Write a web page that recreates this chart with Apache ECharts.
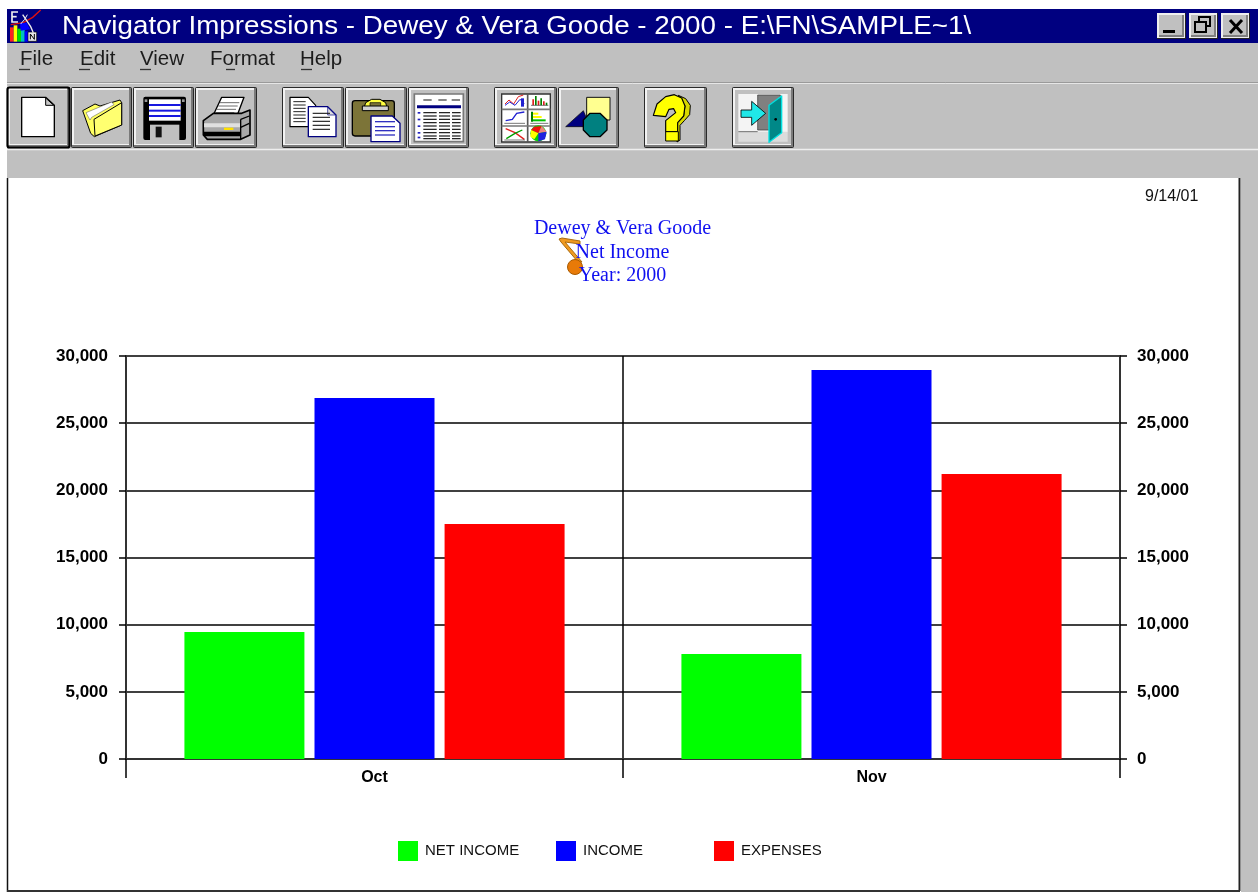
<!DOCTYPE html>
<html>
<head>
<meta charset="utf-8">
<style>html,body{margin:0;padding:0;background:#fff}#c{width:1258px;height:892px}</style>
<script src="https://cdn.jsdelivr.net/npm/echarts@6/dist/echarts.min.js"></script>
</head>
<body>
<div id="c"></div>
<script>
const categories = ['Oct', 'Nov'];
const netIncome = [9450, 7820];
const income = [26880, 28960];
const expenses = [17490, 21220];
const seriesNames = ['NET INCOME', 'INCOME', 'EXPENSES'];
const chartTitleLines = ['Dewey & Vera Goode', 'Net Income', 'Year: 2000'];
const windowTitle = 'Navigator Impressions - Dewey & Vera Goode - 2000 - E:\\FN\\SAMPLE~1\\';
const menuItems = ['File', 'Edit', 'View', 'Format', 'Help'];
const dateStamp = '9/14/01';

const GRAY = '#c0c0c0', NAVY = '#000080', DK = '#808080';
const R = (x, y, w, h, fill, stroke, lw, r) => ({type:'rect', shape:{x, y, width:w, height:h, r:r||0}, style:{fill:fill||'none', stroke:stroke||'none', lineWidth:lw||1}, silent:true});
const P = (pts, fill, stroke, lw) => ({type:'polygon', shape:{points:pts}, style:{fill:fill||'none', stroke:stroke||'none', lineWidth:lw||1, lineJoin:'round'}, silent:true});
const PL = (pts, stroke, lw) => ({type:'polyline', shape:{points:pts}, style:{fill:'none', stroke:stroke, lineWidth:lw||1}, silent:true});
const L = (x1, y1, x2, y2, stroke, lw) => ({type:'line', shape:{x1, y1, x2, y2}, style:{stroke:stroke, lineWidth:lw||1}, silent:true});
const C = (cx, cy, r, fill, stroke, lw) => ({type:'circle', shape:{cx, cy, r}, style:{fill:fill||'none', stroke:stroke||'none', lineWidth:lw||1}, silent:true});
const T = (x, y, text, fontSize, fill, scaleX) => ({type:'text', x, y, scaleX:scaleX||1, silent:true, style:{text, fontSize, fontFamily:'"Liberation Sans",Arial,sans-serif', fill, textAlign:'left', textVerticalAlign:'middle'}});
// children drawn in 3x crop coordinates
const G = (ox, oy, children, z) => ({type:'group', x:ox, y:oy, scaleX:1/3, scaleY:1/3, silent:true, children});

function button(x0, x1, selected) {
  const y0 = 87, y1 = 148, w = x1 - x0, h = y1 - y0;
  const a = [
    R(x0, y0, w, h, '#2a2a2a', null, 1, 2),
    R(x0 + 1, y0 + 1, w - 2, h - 2, '#7a7a7a'),
    R(x0 + 1, y0 + 1, w - 4, h - 4, '#f2f2f2'),
    R(x0 + 3, y0 + 3, w - 6, h - 7, GRAY)
  ];
  if (selected) a.push(R(x0 + .5, y0 + .5, w - 1, h - 1, 'none', '#000', 2.2, 2));
  return a;
}
function winButton(x0, x1) {
  const y0 = 13, y1 = 39, w = x1 - x0, h = y1 - y0;
  return [R(x0, y0, w, h, '#222'), R(x0, y0, w - 1, h - 1, '#eee'), R(x0 + 2, y0 + 2, w - 4, h - 4, DK), R(x0 + 2, y0 + 2, w - 6, h - 6, GRAY)];
}
const chrome = [];
const add = (...a) => a.forEach(e => chrome.push(e));

// panels
add(R(7, 9, 1251, 34, NAVY));
add(R(7, 43, 1251, 135, GRAY));
add(L(7, 82.5, 1258, 82.5, '#9a9a9a', 1), L(7, 83.5, 1258, 83.5, '#e6e6e6', 1));
add(L(7, 149.5, 1258, 149.5, '#eeeeee', 1.5));
add(R(1241, 178, 17, 714, GRAY));
add(L(7.5, 178, 7.5, 892, '#111', 1.5), L(1239.5, 178, 1239.5, 891, '#222', 2), L(7, 891, 1240, 891, '#333', 2));

// title bar
add(T(62, 27, windowTitle, 25, '#fff', 1.11));
// app icon
add(G(0, 0, [
  R(30, 82, 11, 43, '#ff2020'), R(41, 76, 11, 49, '#ffff00'), R(52, 86, 11, 39, '#00e000'), R(63, 90, 11, 35, '#00c0c0'), R(74, 94, 11, 31, '#0000ff'),
  R(84, 96, 26, 28, '#e8e8e8', '#000', 2),
  PL([[91,118],[91,102],[103,118],[103,102]], '#000', 3),
  PL([[54,36],[36,36],[36,66],[54,66]], '#eee', 5), L(36, 50, 50, 50, '#eee', 5),
  PL([[32,74],[70,68],[98,52],[122,30]], '#e01010', 4),
  P([[60,70],[80,68],[90,88],[62,92]], '#0000ff'),
  PL([[68,44],[92,80],[100,98]], '#eee', 4),
  PL([[82,44],[74,58],[62,72]], '#eee', 3)
]));
// window buttons
add(...winButton(1157, 1186), ...winButton(1189, 1218), ...winButton(1221, 1250));
add(R(1163, 30, 12, 3, '#000'));
add(R(1199, 17, 11, 9, 'none', '#000', 2), R(1195, 22, 11, 10, GRAY, '#000', 2));
add(L(1230, 20, 1242, 33, '#000', 3), L(1242, 20, 1230, 33, '#000', 3));

// menu
const menuX = [20, 80, 140, 210, 300];
const underline = [[19, 30], [79, 90], [140, 151], [226, 235], [301, 312]];
menuItems.forEach((m, i) => {
  add(T(menuX[i], 59, m, 20.5, '#1c1c1c'));
  add(L(underline[i][0], 69.5, underline[i][1], 69.5, '#333', 1.3));
});

// toolbar buttons
[[7,70,true],[71,132],[133,194],[195,257],[282,344],[345,407],[408,469],[494,557],[558,619],[644,707],[732,794]].forEach(b => add(...button(b[0], b[1], b[2])));

// icons of first toolbar block
const stripes = [];
[75, 92, 108].forEach(y => stripes.push(R(447, y - 3, 95, 6, '#1818e0')));
add(G(0, 80, [
  // new
  P([[65,52],[137,52],[163,76],[163,170],[65,170]], '#fff', '#000', 4),
  P([[137,54],[137,76],[161,76]], '#c8c8c8', '#000', 3),
  // folder
  P([[248,92],[285,72],[300,78],[360,60],[365,68],[365,135],[283,170],[272,160]], '#ffff60', '#000', 3),
  P([[258,98],[335,66],[342,74],[275,112],[270,120]], '#fff', '#555', 1.5),
  P([[282,118],[365,68],[365,135],[285,168]], '#ffff70', '#000', 3),
  // floppy
  R(430, 50, 128, 130, '#000', null, 1, 6),
  R(447, 58, 95, 64, '#fff'),
  ...stripes,
  R(434, 58, 8, 8, '#999'), R(546, 58, 8, 8, '#999'),
  R(450, 134, 88, 46, GRAY), R(467, 140, 18, 32, '#111'),
  // printer
  P([[640,105],[665,52],[732,52],[712,105]], '#fff', '#000', 4),
  L(660, 68, 718, 68, '#222', 2), L(655, 78, 713, 78, '#222', 2), L(650, 88, 708, 88, '#222', 2), L(646, 98, 703, 98, '#222', 2),
  P([[610,122],[640,100],[725,100],[750,90],[750,165],[722,178],[622,178],[610,165]], '#a8a8a8', '#000', 5),
  R(612, 130, 108, 12, '#e0e0e0'), R(612, 155, 108, 14, '#000'),
  R(672, 143, 28, 7, '#ffe000'),
  L(722, 118, 748, 108, '#000', 4), L(722, 142, 748, 130, '#000', 4), L(722, 118, 722, 178, '#000', 4)
]));

function docLines(x1, x2, ys, col, lw) { return ys.map(y => L(x1, y, x2, y, col, lw)); }
const tableRows = [];
[98,108,118,128,138,148,158,168,176].forEach((y, i) => {
  tableRows.push(L(445, y, 485, y, '#111', 3.5), L(492, y, 525, y, '#111', 3.5), L(531, y, 557, y, '#111', 3.5));
});
add(G(275, 80, [
  // copy
  P([[45,52],[100,52],[122,76],[122,140],[45,140]], '#fff', '#000', 3.5),
  ...docLines(55, 92, [65,75,85,95,105,115,125], '#222', 3),
  P([[100,80],[158,80],[183,105],[183,170],[100,170]], '#fff', NAVY, 4),
  P([[158,82],[158,105],[181,105]], '#ddd', NAVY, 2),
  ...docLines(113, 165, [100,112,124,136,148], '#222', 3.5),
  // paste
  R(232, 62, 126, 106, '#7c7438', '#000', 4, 8),
  P([[265,90],[272,68],[290,58],[315,58],[332,68],[338,90]], '#ffff40', '#000', 3),
  R(285, 68, 32, 12, '#7c7438', '#000', 2),
  R(262, 78, 78, 14, '#d0d0d0', '#000', 3),
  P([[288,108],[352,108],[375,130],[375,185],[288,185]], '#fff', NAVY, 4),
  ...docLines(300, 360, [125,140,152,165], '#3030c0', 4),
  // table
  R(418, 42, 147, 143, '#fff', '#777', 5),
  L(445, 60, 470, 60, '#333', 3.5), L(490, 60, 515, 60, '#333', 3.5), L(530, 60, 555, 60, '#333', 3.5),
  R(426, 76, 132, 9, NAVY),
  ...tableRows,
  ...[98,118,138,158,172].map(y => R(428, y - 2, 8, 5, '#2020c0')),
  // chart grid
  R(680, 42, 146, 144, '#fff', '#333', 4),
  L(758, 42, 758, 186, '#555', 5), L(680, 88, 826, 88, '#777', 5), L(680, 138, 826, 138, '#777', 5),
  PL([[690,72],[702,60],[716,72],[730,50],[745,45]], '#e02020', 3), PL([[690,76],[704,66],[720,76],[735,58],[748,70]], '#2020d0', 3),
  R(738, 55, 9, 25, '#2020d0'),
  ...[[772,58],[780,48],[788,62],[796,55],[804,64],[812,68]].map((b, i) => R(b[0], b[1], 5, 76 - b[1], i % 2 ? '#008000' : '#e02020')),
  L(768, 76, 820, 76, '#333', 2),
  PL([[692,122],[712,118],[725,100],[748,96]], '#2020d0', 4), L(688, 130, 750, 130, '#333', 2),
  R(768, 95, 6, 30, '#008000'), R(774, 98, 16, 6, '#ffff00'), R(774, 108, 26, 6, '#ffff00'), R(774, 118, 38, 6, '#00c000'),
  L(766, 130, 820, 130, '#333', 2),
  PL([[692,146],[720,158],[748,178]], '#e02020', 4), PL([[694,176],[720,160],[742,150]], '#00a000', 4), L(688, 180, 750, 180, '#333', 2),
  C(790, 160, 24, '#00d000'),
  P([[790,160],[768,150],[778,140],[800,138]], '#f01010'),
  P([[790,160],[800,138],[815,155]], '#f08080'),
  P([[790,160],[815,155],[810,178],[790,184]], '#2020e0'),
  P([[790,160],[768,150],[766,170],[778,178]], '#ffff00'),
  // shapes
  R(935, 52, 70, 68, '#ffff90', '#111', 3),
  P([[872,140],[925,92],[945,140]], NAVY, '#000', 2),
  P([[945,100],[975,100],[996,120],[996,150],[975,170],[945,170],[925,150],[925,120]], '#008080', '#000', 4)
]));
add(G(635, 80, [
  // help
  P([[130,46],[152,56],[166,76],[164,104],[148,122],[135,136],[135,180],[126,186],[126,128],[146,108],[150,78]], '#d8d800', '#000', 3),
  P([[55,106],[66,72],[92,50],[118,44],[140,54],[150,78],[146,108],[128,128],[128,155],[92,155],[92,122],[122,98],[116,86],[102,88],[92,110]], '#ffff00', '#000', 3.5),
  R(92, 155, 38, 28, '#ffff00', '#000', 3),
  // exit
  R(310, 42, 148, 114, '#f4f4f4'),
  R(368, 45, 68, 105, DK, '#333', 2),
  P([[310,155],[458,155],[458,185],[310,185]], '#dcdcdc'),
  L(310, 155, 368, 155, '#333', 2),
  P([[318,90],[350,90],[350,64],[392,100],[350,136],[350,112],[318,112]], '#20e8e8', '#000', 2.5),
  P([[402,76],[440,48],[440,158],[402,187]], '#008888', '#00e0e0', 4),
  C(422, 118, 4, '#000')
]));

// note graphic on the chart heading
add({type:'group', z:50, silent:true, children:[
  P([[559,239],[562,238],[580,241],[580,244],[565,242],[582,262],[578,262],[561,242]], '#f09a20', '#a86a10', 1),
  C(575, 267, 7.5, '#e87a08', '#a85a00', 1)
]});

const barStyle = c => ({type:'bar', barWidth:120, barGap:'8.4%', itemStyle:{color:c}, silent:true, animation:false});
const axisBase = {
  type:'value', min:0, max:30000, interval:5000,
  axisLine:{show:true, lineStyle:{color:'#333', width:2}},
  axisTick:{show:true, length:7, lineStyle:{color:'#000', width:1.5}},
  axisLabel:{fontFamily:'"Liberation Sans",Arial,sans-serif', fontSize:17, fontWeight:'bold', color:'#000',
    formatter:v => v.toLocaleString('en-US')}
};

const chart = echarts.init(document.getElementById('c'), null, {renderer:'canvas'});
chart.setOption({
  animation:false,
  backgroundColor:'#ffffff',
  title:[{
    text:chartTitleLines.join('\n'), left:617.5, top:212, textAlign:'center',
    textStyle:{fontFamily:'"Liberation Serif","Times New Roman",serif', fontSize:20, fontWeight:'normal', color:'#1010f0', lineHeight:23.5}
  },{
    text:dateStamp, left:1140, top:184,
    textStyle:{fontFamily:'"Liberation Sans",Arial,sans-serif', fontSize:16, fontWeight:'normal', color:'#111'}
  }],
  grid:{left:126, right:138, top:356, bottom:133, containLabel:false},
  legend:seriesNames.map((n, i) => ({
    data:[n], left:[398, 556, 714][i], top:841, itemWidth:20, itemHeight:20, padding:0, selectedMode:false, icon:'rect',
    textStyle:{fontFamily:'"Liberation Sans",Arial,sans-serif', fontSize:15, color:'#111', padding:[2,0,0,2]}
  })),
  xAxis:{
    type:'category', data:categories,
    axisLine:{lineStyle:{color:'#333', width:2}},
    axisTick:{show:true, length:19, alignWithLabel:false, lineStyle:{color:'#000', width:1.5}},
    splitLine:{show:true, lineStyle:{color:'#000', width:1.5}},
    axisLabel:{margin:11, fontFamily:'"Liberation Sans",Arial,sans-serif', fontSize:16, fontWeight:'bold', color:'#000'}
  },
  yAxis:[
    Object.assign({}, axisBase, {position:'left', axisLabel:Object.assign({}, axisBase.axisLabel, {margin:18}),
      splitLine:{show:true, lineStyle:{color:'#000', width:1.5}}}),
    Object.assign({}, axisBase, {position:'right', axisLabel:Object.assign({}, axisBase.axisLabel, {margin:17}), splitLine:{show:false}})
  ],
  series:[
    Object.assign(barStyle('#00ff00'), {name:seriesNames[0], data:netIncome}),
    Object.assign(barStyle('#0000ff'), {name:seriesNames[1], data:income}),
    Object.assign(barStyle('#ff0000'), {name:seriesNames[2], data:expenses})
  ],
  graphic:{elements:chrome}
});
</script>
</body>
</html>
